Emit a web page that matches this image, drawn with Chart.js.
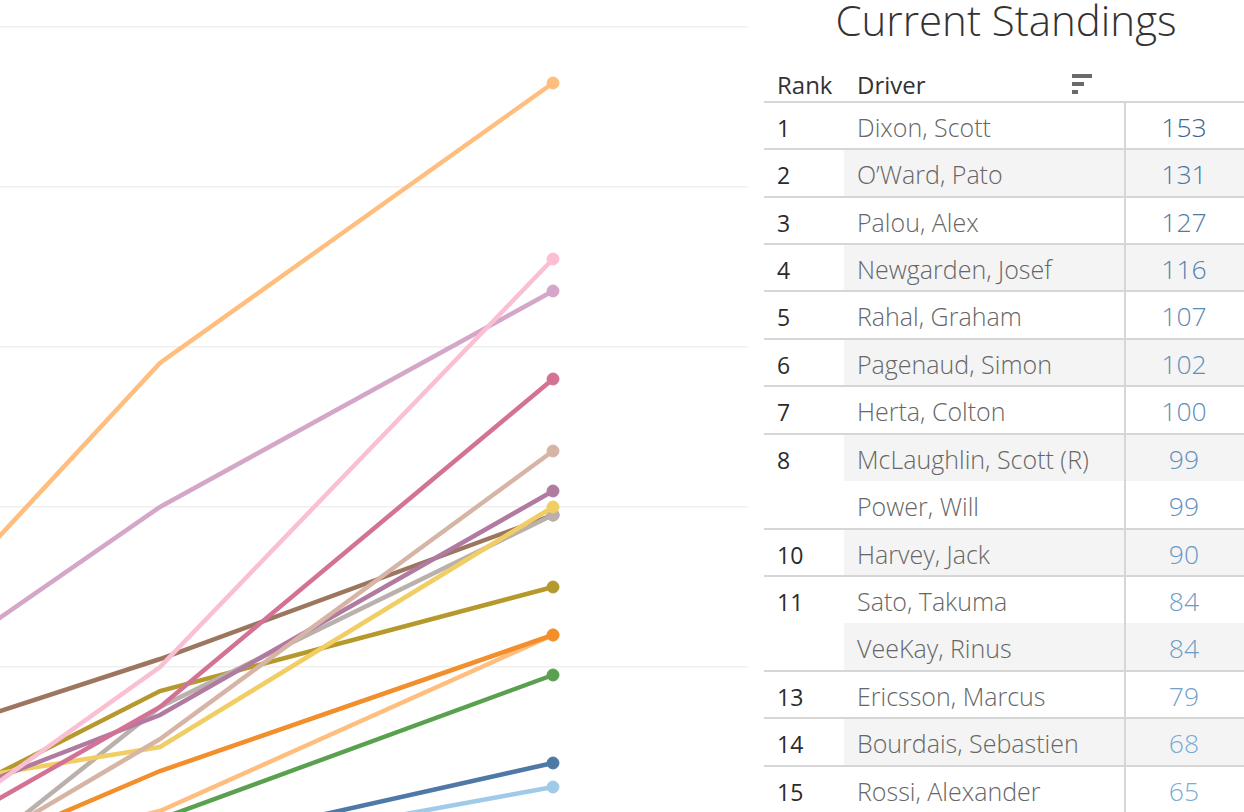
<!DOCTYPE html>
<html>
<head>
<meta charset="utf-8">
<script src="https://cdn.jsdelivr.net/npm/chart.js"></script>
<style>
    body { margin: 0; background: #fff; font-family: 'Open Sans', 'Noto Sans', sans-serif; }
    #wrap { position: relative; width: 1244px; height: 812px; overflow: hidden; }
    #chart { position: absolute; left: 0; top: 0; }
    .txt { position: absolute; white-space: nowrap; line-height: 1; }
    .hline { position: absolute; height: 2px; background: #d6d6d6; }
    .shade { position: absolute; background: #f4f4f4; }
</style>
</head>
<body>
<div id="wrap">
    <canvas id="chart" width="748" height="812"></canvas>
    <div id="standings"></div>
</div>
<script>
'use strict';

const races = [2, 3, 4];
const drivers = [
    'Dixon, Scott', 'O\u2019Ward, Pato', 'Palou, Alex', 'Newgarden, Josef',
    'Rahal, Graham', 'Pagenaud, Simon', 'Herta, Colton', 'McLaughlin, Scott (R)',
    'Power, Will', 'Harvey, Jack', 'Sato, Takuma', 'VeeKay, Rinus',
    'Ericsson, Marcus', 'Bourdais, Sebastien', 'Rossi, Alexander'
];
const race2Points = [65, 45, 66, 47, 42, 55, 62, 36, 65, 52, 46, 50, 48, 45, 44];
const race3Points = [118, 80, 100, 75, 71, 74, 70, 75, 81, 77, 67, 62, 61, 57, 56];
const currentPoints = [153, 131, 127, 116, 107, 102, 100, 99, 99, 90, 84, 84, 79, 68, 65];

const lineColors = [
    '#ffbe7d', '#fabfd2', '#d4a6c8', '#d37295', '#d7b5a6', '#b07aa1', '#f1ce63', '#bab0ac',
    '#9d7660', '#b6992d', '#f28e2b', '#ffbe7d', '#59a14f', '#4e79a7', '#a0cbe8'
];

const allRaces = [race2Points, race3Points, currentPoints];

// x window: race 3 lands at 160px, race 4 at 553px
const pxPerRace = 393;
const xMin = 3 - 160 / pxPerRace;
const xMax = xMin + 748 / pxPerRace;

const datasets = drivers.map((name, i) => ({
    label: name,
    data: races.map((r, j) => ({ x: r, y: allRaces[j][i] })),
    borderColor: lineColors[i],
    backgroundColor: lineColors[i],
    borderWidth: 4.5,
    pointRadius: races.map((r, j) => j === races.length - 1 ? 6 : 0),
    pointBorderWidth: 1,
    pointHoverRadius: 0,
    tension: 0
}));

new Chart(document.getElementById('chart').getContext('2d'), {
    type: 'line',
    data: { datasets: datasets },
    options: {
        responsive: false,
        animation: false,
        layout: { padding: 0, autoPadding: false },
        plugins: { legend: { display: false }, tooltip: { enabled: false } },
        scales: {
            x: { type: 'linear', min: xMin, max: xMax, display: false },
            y: {
                min: 61.875,
                max: 163.375,
                ticks: { display: false, stepSize: 20, includeBounds: false },
                grid: { color: '#efefef', lineWidth: 1.5, drawTicks: false },
                border: { display: false },
                afterFit: s => { s.width = 0; }
            }
        }
    }
});

// standings table
const box = document.getElementById('standings');
function add(cls, css, text) {
    const el = document.createElement('div');
    el.className = cls;
    Object.assign(el.style, css);
    if (text !== undefined) el.textContent = text;
    box.appendChild(el);
    return el;
}

add('txt', { left: '1006px', top: '-1px', transform: 'translateX(-50%)', fontSize: '42px', fontWeight: '300', color: '#333' }, 'Current Standings');
add('txt', { left: '777px', top: '73px', fontSize: '24px', color: '#333' }, 'Rank');
add('txt', { left: '857px', top: '73px', fontSize: '24px', color: '#333' }, 'Driver');
add('shade', { left: '1072px', top: '74px', width: '20px', height: '4px', background: '#6a6a6a' });
add('shade', { left: '1072px', top: '82px', width: '12px', height: '4px', background: '#6a6a6a' });
add('shade', { left: '1072px', top: '90px', width: '6px', height: '4px', background: '#6a6a6a' });

const rowTop = 101.7;
const rowH = 47.43;
const maxPts = Math.max(...currentPoints);
const minPts = Math.min(...currentPoints);

function valueColor(v) {
    const t = (maxPts - v) / (maxPts - minPts);
    const a = [59, 101, 147], b = [122, 173, 214];
    return 'rgb(' + a.map((c, k) => Math.round(c + (b[k] - c) * t)).join(',') + ')';
}

drivers.forEach((name, i) => {
    const top = rowTop + i * rowH;
    const tied = i > 0 && currentPoints[i] === currentPoints[i - 1];
    if (i % 2 === 1) {
        add('shade', { left: '844px', top: top + 'px', width: '400px', height: rowH + 'px' });
    }
    if (!tied) {
        add('hline', { left: '764px', top: (top - 1) + 'px', width: '480px' });
        const rank = 1 + currentPoints.filter(p => p > currentPoints[i]).length;
        add('txt', { left: '777px', top: (top + 15) + 'px', fontSize: '23px', color: '#2b2b2b' }, String(rank));
    }
    add('txt', { left: '857px', top: (top + 13) + 'px', fontSize: '25px', fontWeight: '300', color: '#666' }, name);
    add('txt', { left: '1184px', top: (top + 12) + 'px', fontSize: '26.5px', fontWeight: '300', transform: 'translateX(-50%)', color: valueColor(currentPoints[i]) }, String(currentPoints[i]));
});
add('shade', { left: '1123.5px', top: rowTop + 'px', width: '2px', height: (812 - rowTop) + 'px', background: '#d6d6d6' });
</script>
</body>
</html>
